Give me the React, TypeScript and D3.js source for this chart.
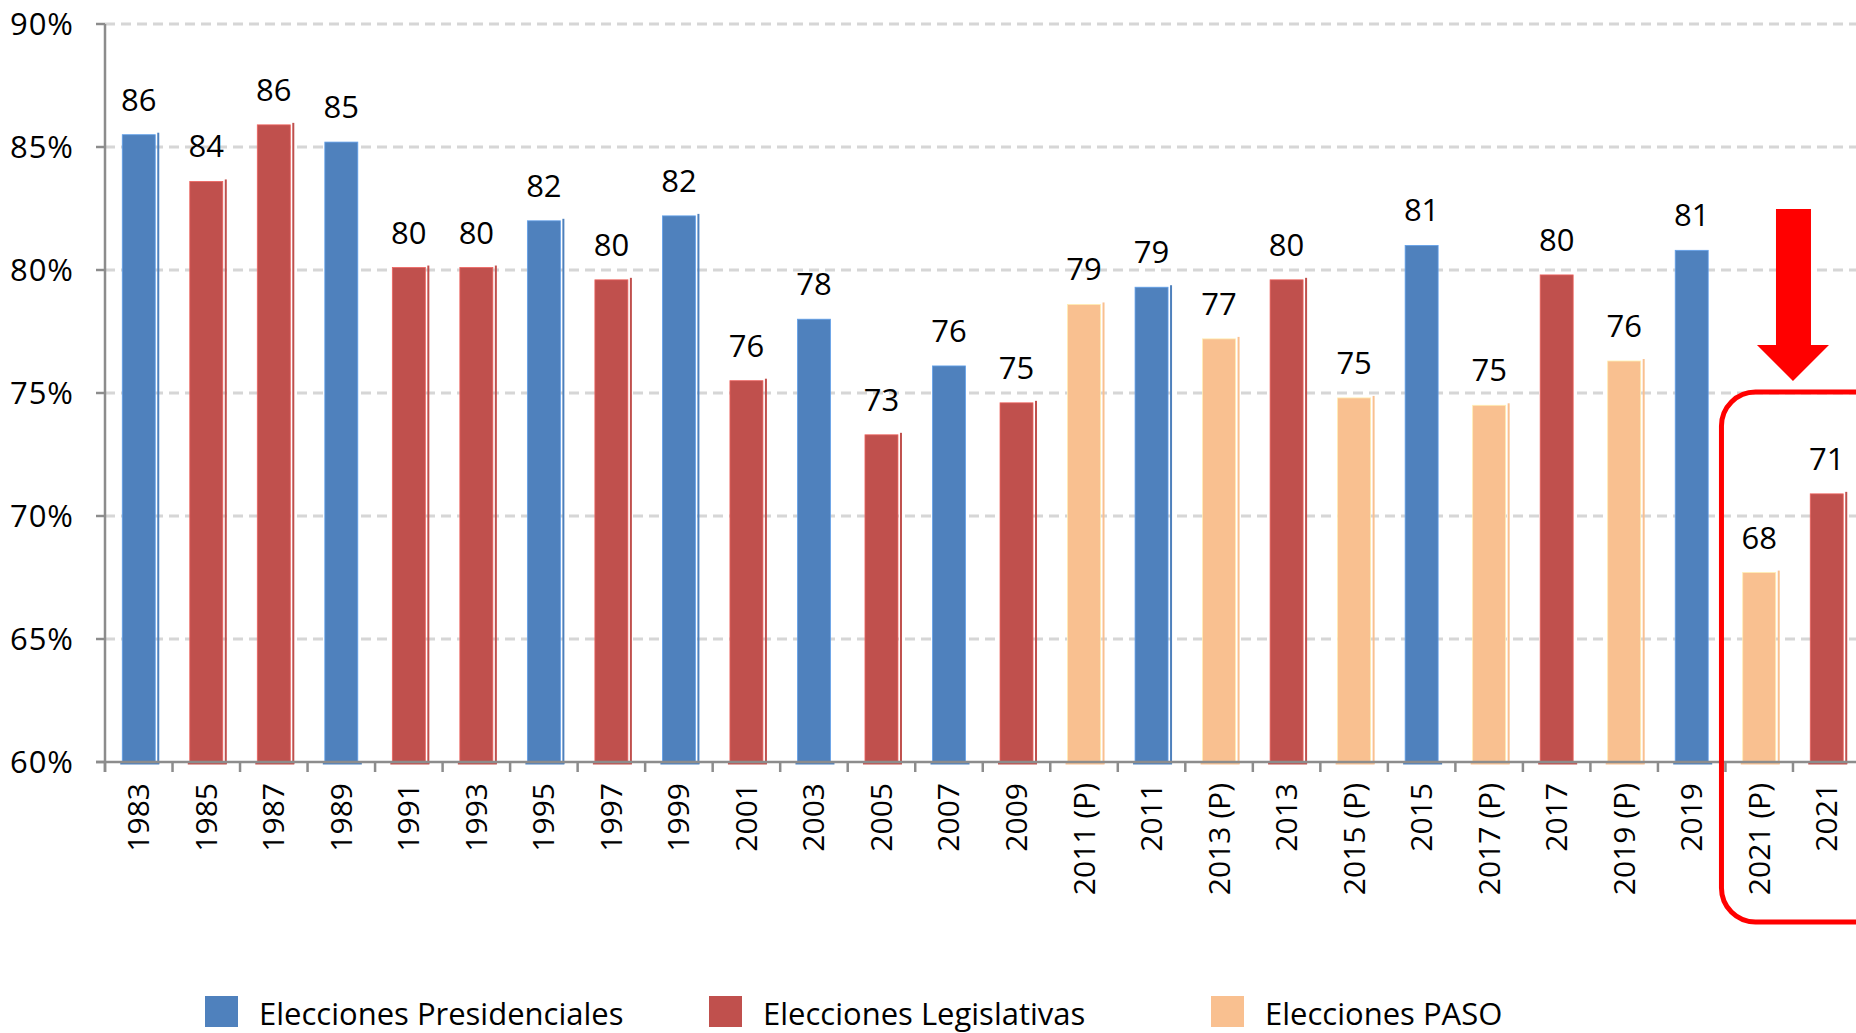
import React from "react";
import * as d3 from "d3";

const categories = [
  "1983", "1985", "1987", "1989", "1991", "1993", "1995", "1997", "1999", "2001",
  "2003", "2005", "2007", "2009", "2011 (P)", "2011", "2013 (P)", "2013", "2015 (P)", "2015",
  "2017 (P)", "2017", "2019 (P)", "2019", "2021 (P)", "2021",
];
const values = [
  85.5, 83.6, 85.9, 85.2, 80.1, 80.1, 82.0, 79.6, 82.2, 75.5,
  78.0, 73.3, 76.1, 74.6, 78.6, 79.3, 77.2, 79.6, 74.8, 81.0,
  74.5, 79.8, 76.3, 80.8, 67.7, 70.9,
];
const types = [
  "Presidenciales", "Legislativas", "Legislativas", "Presidenciales", "Legislativas", "Legislativas",
  "Presidenciales", "Legislativas", "Presidenciales", "Legislativas", "Presidenciales", "Legislativas",
  "Presidenciales", "Legislativas", "PASO", "Presidenciales", "PASO", "Legislativas", "PASO",
  "Presidenciales", "PASO", "Legislativas", "PASO", "Presidenciales", "PASO", "Legislativas",
];
const seriesKeys = ["Presidenciales", "Legislativas", "PASO"];
const seriesLabels = ["Elecciones Presidenciales", "Elecciones Legislativas", "Elecciones PASO"];
const yTicks = [60, 65, 70, 75, 80, 85, 90];

const W = 1856;
const H = 1033;
const FONT = "'Open Sans', 'Noto Sans', sans-serif";
const colors: Record<string, string> = {
  Presidenciales: "#4f81bd",
  Legislativas: "#c0504d",
  PASO: "#f9c090",
};
const noShadow = new Set(["1989", "2003", "2007", "2015", "2017", "2019"]);

export default function App() {
  const x = d3.scaleBand<string>().domain(categories).range([105, 1860.5]).padding(0);
  const y = d3.scaleLinear().domain([60, 90]).range([762, 24]);
  const bw = 33;
  const base = y(60);
  const plotRight = W;

  const legendX = [205, 709, 1211];

  const splitX = x("2021")!;
  const arrowTop = 209;
  const arrowNeck = 345;
  const arrowTip = 381;
  const arrowPath = `M${splitX - 17},${arrowTop} L${splitX + 18},${arrowTop} L${splitX + 18},${arrowNeck} L${splitX + 36},${arrowNeck} L${splitX},${arrowTip} L${splitX - 36},${arrowNeck} L${splitX - 17},${arrowNeck} Z`;
  const boxLeft = x("2021 (P)")! - 4;

  return (
    <svg width={W} height={H} style={{ position: "absolute", left: 0, top: 0, background: "#fff" }}>
      {yTicks.filter((t) => t > 60).map((t) => (
        <line key={"g" + t} x1={x.range()[0]} x2={plotRight} y1={y(t)} y2={y(t)}
          stroke="#d6d6d6" strokeWidth={2.8} strokeDasharray="10 6" />
      ))}
      {categories.map((c, i) => {
        const cx = x(c)! + x.bandwidth() / 2;
        const col = colors[types[i]];
        const top = y(values[i]);
        const shadow = !noShadow.has(c);
        return (
          <g key={c}>
            {shadow && (
              <rect x={cx + bw / 2 + 2} y={top - 2} width={2} height={base - top + 4} fill={col} />
            )}
            <rect x={cx - bw / 2 - 2} y={base} width={bw + 6} height={2.5} fill={col} />
            <rect x={cx - bw / 2} y={top} width={bw} height={base - top} fill={col}
              stroke={d3.color(col)!.brighter(0.6).formatHex()} strokeWidth={0.8} />
            <text x={cx} y={top - 24} textAnchor="middle" fontFamily={FONT} fontSize={31} fill="#000">
              {Math.round(values[i])}
            </text>
          </g>
        );
      })}
      <line x1={105} x2={105} y1={y(90)} y2={base + 10} stroke="#8c8c8c" strokeWidth={2.5} />
      <line x1={96} x2={plotRight} y1={base} y2={base} stroke="#8c8c8c" strokeWidth={2.5} />
      {yTicks.map((t) => (
        <g key={"yt" + t}>
          <line x1={96} x2={105} y1={y(t)} y2={y(t)} stroke="#8c8c8c" strokeWidth={2.5} />
          <text x={74} y={y(t)} dy="0.35em" textAnchor="end" fontFamily={FONT} fontSize={31}
            letterSpacing={1} fill="#000">
            {t}%
          </text>
        </g>
      ))}
      {categories.map((c) => (
        <line key={"xt" + c} x1={x(c)!} x2={x(c)!} y1={base} y2={base + 10} stroke="#8c8c8c" strokeWidth={2.5} />
      ))}
      {categories.map((c) => {
        const cx = x(c)! + x.bandwidth() / 2;
        return (
          <text key={"xl" + c} transform={`translate(${cx},${783}) rotate(-90)`} textAnchor="end"
            dy="0.35em" fontFamily={FONT} fontSize={30} fill="#000">
            {c}
          </text>
        );
      })}
      <path d={arrowPath} fill="#ff0000" />
      <rect x={boxLeft} y={392} width={170} height={530} rx={34} ry={34} fill="none" stroke="#ff0000" strokeWidth={5} />
      {seriesKeys.map((k, i) => (
        <g key={"lg" + k}>
          <rect x={legendX[i]} y={996} width={33} height={31} fill={colors[k]} />
          <text x={legendX[i] + 54} y={1025} fontFamily={FONT} fontSize={31} fill="#000">
            {seriesLabels[i]}
          </text>
        </g>
      ))}
    </svg>
  );
}
